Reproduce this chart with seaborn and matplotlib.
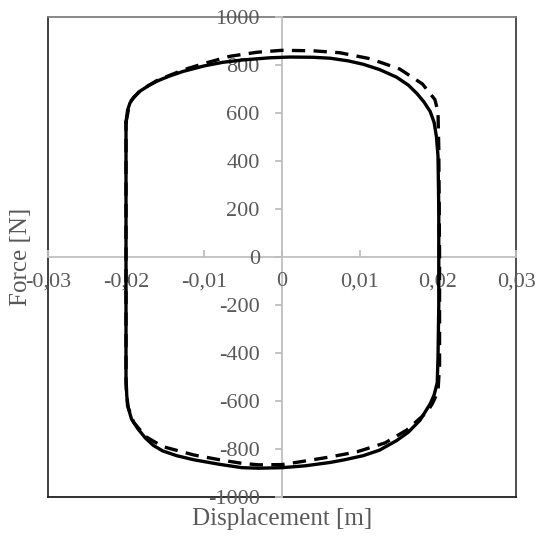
import matplotlib
matplotlib.use("Agg")
import matplotlib.pyplot as plt
from matplotlib.ticker import FuncFormatter, MultipleLocator
import seaborn as sns
import pandas as pd

# measured loop (solid)
meas_x = [-0.0200, -0.0198, -0.0195, -0.0190, -0.0182, -0.0170, -0.0160, -0.0145, -0.0127, -0.0100,
          -0.0076, -0.0050, -0.0015, 0.0010, 0.0040, 0.0062, 0.0085, 0.0104, 0.0125, 0.0147,
          0.0162, 0.0173, 0.0182, 0.0190, 0.0195, 0.0198, 0.0200,
          0.0201, 0.0201, 0.0201, 0.0200,
          0.0199, 0.0195, 0.0190, 0.0177, 0.0162, 0.0147, 0.0125, 0.0104, 0.0080, 0.0062,
          0.0030, 0.0000, -0.0030, -0.0051, -0.0080, -0.0113, -0.0135, -0.0153, -0.0165, -0.0175,
          -0.0185, -0.0193, -0.0197, -0.0199, -0.0200,
          -0.0200, -0.0200, -0.0200, -0.0200, -0.0200]
meas_f = [560, 610, 640, 665, 690, 715, 732, 752, 772, 795,
          810, 820, 829, 832, 831, 827, 816, 802, 780, 748,
          715, 680, 645, 605, 560, 500, 420,
          200, 0, -200, -420,
          -525, -575, -612, -680, -730, -765, -805, -828, -845, -856,
          -870, -878, -880, -878, -864, -845, -828, -808, -785, -755,
          -715, -675, -630, -580, -500,
          -200, 0, 200, 500, 560]

# model loop (dashed)
model_x = [-0.0200, -0.0195, -0.0182, -0.0160, -0.0127, -0.0100, -0.0067, -0.0032, 0.0000, 0.0040,
           0.0074, 0.0113, 0.0151, 0.0180, 0.0196, 0.0200, 0.0201,
           0.0202, 0.0202,
           0.0200, 0.0193, 0.0186, 0.0160, 0.0132, 0.0096, 0.0062, 0.0030, 0.0000, -0.0030,
           -0.0051, -0.0080, -0.0113, -0.0153, -0.0175, -0.0190, -0.0198, -0.0200,
           -0.0200, -0.0200]
model_f = [560, 645, 692, 735, 778, 805, 835, 852, 860, 858,
           850, 825, 782, 720, 655, 604, 450,
           0, -450,
           -560, -610, -646, -721, -775, -812, -833, -850, -865, -866,
           -860, -845, -825, -790, -748, -690, -620, -530,
           0, 560]

x_ticks = [-0.03, -0.02, -0.01, 0.0, 0.01, 0.02, 0.03]
y_ticks = [-1000, -800, -600, -400, -200, 0, 200, 400, 600, 800, 1000]

sns.set_style("white")
plt.rcParams['font.family'] = ['Liberation Serif', 'DejaVu Serif']

fig = plt.figure(figsize=(5.4, 5.39), dpi=100)
pos = [48/540, 1-497/539, 468/540, (497-16.7)/539]

# frame axes (box)
frame = fig.add_axes(pos, zorder=0)
frame.set_xticks([]); frame.set_yticks([])
frame.patch.set_alpha(0)
for s, c in [('top', '#808080'), ('right', '#404040'), ('left', '#303030'), ('bottom', '#202020')]:
    frame.spines[s].set_color(c)
    frame.spines[s].set_linewidth(1.3)

ax = fig.add_axes(pos, zorder=1)
ax.patch.set_alpha(0)

df_m = pd.DataFrame({'x': meas_x, 'f': meas_f})
df_s = pd.DataFrame({'x': model_x, 'f': model_f})
sns.lineplot(data=df_m, x='x', y='f', sort=False, estimator=None, color='black', lw=2.4, ax=ax)
sns.lineplot(data=df_s, x='x', y='f', sort=False, estimator=None, color='black', lw=2.4,
             ax=ax, dashes=False)
ax.lines[-1].set_dashes([4, 2.5])

ax.set_xlim(-0.03, 0.03)
ax.set_ylim(-1000, 1000)
ax.set_xticks(x_ticks)
ax.set_yticks(y_ticks)

ax.spines['top'].set_visible(False)
ax.spines['right'].set_visible(False)
ax.spines['left'].set_position(('data', 0))
ax.spines['bottom'].set_position(('data', 0))
for s in ['left', 'bottom']:
    ax.spines[s].set_color('#BFBFBF')
    ax.spines[s].set_linewidth(1.3)
    ax.spines[s].set_zorder(0)

def xfmt(v, p):
    if abs(v) < 1e-12:
        return '0'
    return ('%.2f' % v).replace('.', ',')

ax.xaxis.set_major_formatter(FuncFormatter(xfmt))
ax.yaxis.set_major_formatter(FuncFormatter(lambda v, p: '%d' % v))
ax.tick_params(axis='y', direction='out', length=5, width=1.3, color='#BFBFBF',
               labelcolor='#595959', labelsize=16, pad=11, left=True)
ax.tick_params(axis='x', direction='in', length=5, width=1.3, color='#BFBFBF',
               labelcolor='#595959', labelsize=16, pad=11, bottom=True)
ax.set_xlabel('')
ax.set_ylabel('')

fig.text(282/540, 1-519/539, 'Displacement [m]', ha='center', va='center',
         fontsize=18, color='#595959')
fig.text(21/540, 1-257/539, 'Force [N]', ha='center', va='center', rotation=90,
         fontsize=18, color='#595959')

fig.savefig('out.png', dpi=100)
